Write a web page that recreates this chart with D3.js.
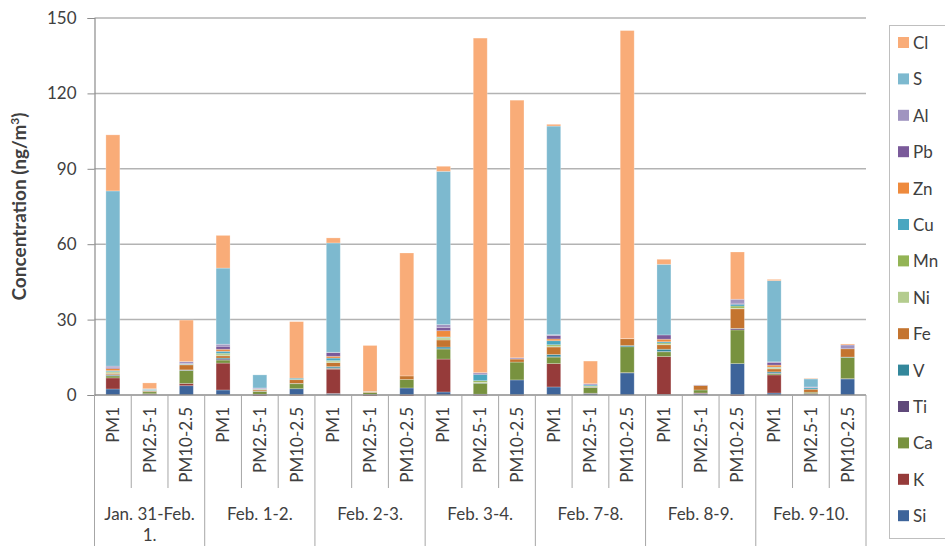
<!DOCTYPE html>
<html>
<head>
<meta charset="utf-8">
<script src="https://cdn.jsdelivr.net/npm/d3@7"></script>
<style>
  body { margin: 0; background: #fff; }
  text { font-family: Lato, "Open Sans", sans-serif; fill: #404040; }
</style>
</head>
<body>
<div id="chart"></div>
<script>
// sampling periods and size fractions
const dates = ["Jan. 31-Feb. 1.", "Feb. 1-2.", "Feb. 2-3.", "Feb. 3-4.", "Feb. 7-8.", "Feb. 8-9.", "Feb. 9-10."];
const fractions = ["PM1", "PM2.5-1", "PM10-2.5"];

// elements, bottom of stack first
const elements = ["Si", "K", "Ca", "Ti", "V", "Fe", "Ni", "Mn", "Cu", "Zn", "Pb", "Al", "S", "Cl"];
const colors = ["#3d649a", "#963b3a", "#78923f", "#5f497a", "#33879b", "#c4742f", "#b4cc8e",
                "#93b455", "#4aa6c0", "#ee8a3d", "#7a5a9a", "#a094c0", "#7db9cf", "#f9ac78"];

// 21 bars: PM1, PM2.5-1, PM10-2.5 for each period (ng/m3)
const Si = [2.4, 0.2, 3.7,  2.0, 0.3, 2.5,  0.6, 0.2, 2.8,  1.2, 0.3, 6.0,  3.2, 0.6, 8.8,  0.2, 0.6, 12.5,  0.8, 0.3, 6.4];
const K  = [4.4, 0.3, 0.9,  10.7, -0.4, -0.3,  9.7, -0.4, -0.4,  13.1, -0.3, -0.3,  9.3, 0.1, 0.1,  15.1, 0.2, -0.4,  7.2, 0.3, 0.1];
const Ca = [0.8, 0.8, 5.2,  1.2, 1.1, 2.0,  0.3, 0.8, 3.4,  4.0, 4.4, 7.1,  2.6, 2.3, 10.3,  1.9, 1.2, 13.4,  0.5, 0.5, 8.5];
const Ti = [0.2, 0, 0.1,  0.4, 0, 0,  0.2, 0, 0,  0.1, 0, 0,  0.1, 0, 0,  0.1, 0, 0.5,  0.2, 0, 0];
const V  = [0.3, 0.1, 0.1,  0.4, 0.1, 0.1,  0.5, 0, 0,  0.7, 0.1, 0,  0.9, 0.1, 0.5,  0.9, 0, 0.1,  0.5, 0, 0.1];
const Fe = [0.5, 0.3, 2.0,  0.9, 0.5, 1.5,  1.6, 0.2, 1.4,  2.8, 0.1, 1.2,  3.0, 0.2, 2.7,  1.8, 1.8, 7.8,  1.2, 1.2, 3.3];
const Ni = [0.3, 0, 0,  0.4, 0, 0,  0.4, 0, 0,  0.8, 0.2, 0,  0.4, 0, 0,  0.2, 0, 0.3,  0.2, 0, 0];
const Mn = [0.4, 0.1, 0.1,  0.6, 0.1, 0.1,  0.4, 0.1, 0,  0.2, 0.6, 0,  0.5, 0.3, 0,  0.5, 0, 0.8,  0.3, 0, 0];
const Cu = [0.4, 0.2, 0.2,  0.8, 0.2, 0.5,  1.0, 0.1, 0,  0.2, 2.5, 0,  1.6, 0.4, 0,  0.5, 0, 0.7,  0.2, 0.6, 0];
const Zn = [0.8, 0.1, 0.1,  0.8, 0.1, 0,  0.7, 0, 0,  2.5, 0, 0,  0.7, 0, 0.1,  1.0, 0, 0,  0.8, 0, 0];
const Pb = [0.5, 0, 0.1,  1.2, 0.1, 0,  1.5, 0, 0,  1.2, 0.5, 0,  1.4, 0, 0,  1.7, 0, 0.4,  1.1, 0, 0];
const Al = [0.5, 0.1, 0.8,  0.8, 0.3, 0,  0.1, 0, 0,  1.2, 0.2, 0.5,  0.3, 0.5, 0,  0, 0.2, 1.6,  0.2, 0.3, 1.5];
const S  = [69.7, 0.3, 0,  30.3, 5.2, 0,  43.5, 0, 0,  61.0, 0, 0,  83.0, 0, 0,  28.1, 0, 0,  32.3, 3.2, 0];
const Cl = [22.3, 2.3, 16.5,  13.0, 0, 22.5,  2.0, 18.3, 48.9,  2.0, 133.1, 102.5,  0.7, 9.0, 122.5,  2.0, 0, 18.8,  0.5, 0.2, 0.4];

const series = [Si, K, Ca, Ti, V, Fe, Ni, Mn, Cu, Zn, Pb, Al, S, Cl];
const yTicks = [0, 30, 60, 90, 120, 150];

let width = 945,
    height = 546;
let plotLeft = 94.5, plotRight = 866, plotTop = 18, plotBottom = 395;

let rows = [];
dates.forEach(function (d, g) {
    fractions.forEach(function (f, j) {
        let i = g * 3 + j;
        let row = { id: i, date: d, fraction: f };
        elements.forEach(function (e, k) { row[e] = series[k][i]; });
        rows.push(row);
    });
});

let svg = d3.select("#chart").append("svg")
    .attr("width", width)
    .attr("height", height);

let x = d3.scaleBand()
    .domain(rows.map(function (d) { return d.id; }))
    .range([plotLeft, plotRight])
    .paddingInner(0.62)
    .paddingOuter(0.31);
let step = x.step();

let y = d3.scaleLinear().domain([0, 150]).range([plotBottom, plotTop]);
let color = d3.scaleOrdinal().domain(elements).range(colors);

// gridlines
svg.append("g")
    .selectAll("line")
    .data(yTicks.filter(function (t) { return t > 0; }))
    .enter().append("line")
    .attr("x1", plotLeft).attr("x2", plotRight)
    .attr("y1", function (d) { return y(d); })
    .attr("y2", function (d) { return y(d); })
    .attr("stroke", "#b3b3b3")
    .attr("stroke-width", 1.5);

// y axis
let yAxis = svg.append("g")
    .attr("transform", "translate(" + plotLeft + ",0)")
    .call(d3.axisLeft(y).tickValues(yTicks).tickSize(7).tickPadding(11));
yAxis.select(".domain").attr("stroke", "#8c8c8c").attr("stroke-width", 1.2);
yAxis.selectAll(".tick line").attr("stroke", "#8c8c8c");
yAxis.selectAll(".tick text")
    .style("font-family", "Lato, sans-serif")
    .style("font-size", "17px")
    .attr("fill", "#404040");

// stacked bars
let stack = d3.stack().keys(elements).offset(d3.stackOffsetDiverging);
let layers = stack(rows);

svg.append("g")
    .selectAll("g")
    .data(layers)
    .enter().append("g")
    .attr("fill", function (d) { return color(d.key); })
    .selectAll("rect")
    .data(function (d) { return d; })
    .enter().append("rect")
    .attr("x", function (d) { return x(d.data.id); })
    .attr("width", x.bandwidth())
    .attr("y", function (d) { return y(Math.max(d[0], d[1])); })
    .attr("height", function (d) { return Math.abs(y(d[0]) - y(d[1])); })
    .attr("stroke", "rgba(255,255,255,0.3)")
    .attr("stroke-width", 0.8);

// zero line
svg.append("line")
    .attr("x1", plotLeft).attr("x2", plotRight)
    .attr("y1", y(0)).attr("y2", y(0))
    .attr("stroke", "#8c8c8c")
    .attr("stroke-width", 1.5);

// category separators under the axis
let seps = d3.range(0, rows.length + 1);
svg.append("g")
    .selectAll("line")
    .data(seps)
    .enter().append("line")
    .attr("x1", function (k) { return plotLeft + k * step; })
    .attr("x2", function (k) { return plotLeft + k * step; })
    .attr("y1", plotBottom)
    .attr("y2", function (k) { return k % 3 === 0 ? height : 488; })
    .attr("stroke", "#a6a6a6")
    .attr("stroke-width", 1);

// fraction labels, rotated
svg.append("g")
    .selectAll("text")
    .data(rows)
    .enter().append("text")
    .attr("transform", function (d) {
        return "translate(" + (x(d.id) + x.bandwidth() / 2) + ",407) rotate(-90)";
    })
    .attr("text-anchor", "end")
    .attr("dy", "0.35em")
    .style("font-size", "17px")
    .text(function (d) { return d.fraction; });

// date labels, wrapped to the group width
let dateText = svg.append("g")
    .selectAll("text")
    .data(dates)
    .enter().append("text")
    .attr("x", function (d, g) { return plotLeft + (g * 3 + 1.5) * step; })
    .attr("y", 520)
    .attr("text-anchor", "middle")
    .style("font-size", "17px")
    .text(function (d) { return d; });

dateText.each(function (d) {
    let t = d3.select(this);
    if (this.getComputedTextLength() > step * 3 - 6) {
        let cut = d.lastIndexOf(" ");
        let cx = t.attr("x");
        t.text(null);
        t.append("tspan").attr("x", cx).text(d.slice(0, cut));
        t.append("tspan").attr("x", cx).attr("dy", 21).text(d.slice(cut + 1));
    }
});

// y title
let title = svg.append("text")
    .attr("transform", "translate(26," + ((plotTop + plotBottom) / 2) + ") rotate(-90)")
    .attr("text-anchor", "middle")
    .style("font-size", "19px")
    .style("font-weight", "bold")
    .attr("fill", "#000");
title.append("tspan").text("Concentration (ng/m");
title.append("tspan").attr("dy", -7).style("font-size", "12px").text("3");
title.append("tspan").attr("dy", 7).text(")");

// legend, top entry is the top of the stack
let legendKeys = elements.slice().reverse();
svg.append("rect")
    .attr("x", 889.5).attr("y", 25.5)
    .attr("width", 60).attr("height", 513)
    .attr("fill", "#fff")
    .attr("stroke", "#bfbfbf");

let legend = svg.append("g")
    .selectAll("g")
    .data(legendKeys)
    .enter().append("g")
    .attr("transform", function (d, i) { return "translate(898," + (43 + i * 36.4) + ")"; });

legend.append("rect")
    .attr("x", 0).attr("y", -6)
    .attr("width", 11).attr("height", 11)
    .attr("fill", function (d) { return color(d); });

legend.append("text")
    .attr("x", 15)
    .attr("dy", "0.35em")
    .style("font-size", "17px")
    .text(function (d) { return d; });
</script>
</body>
</html>
